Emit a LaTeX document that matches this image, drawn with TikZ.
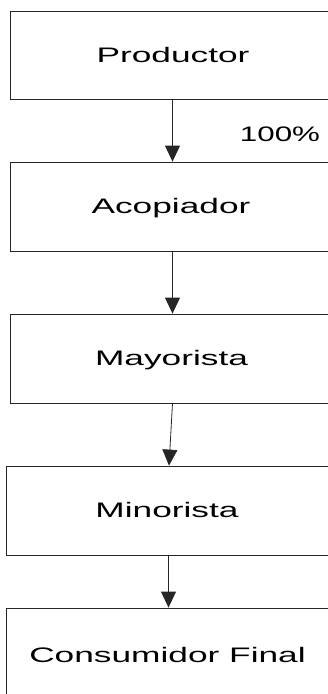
\documentclass[tikz,border=0pt]{standalone}
\usepackage{fontspec}
\setmainfont{Liberation Sans}
\usetikzlibrary{arrows.meta}
\begin{document}
\begin{tikzpicture}[x=1pt,y=-1pt,
  boxnode/.style={draw=black!85,line width=0.8pt,rectangle,inner sep=0pt},
  lbl/.style={anchor=base,inner sep=0pt,font=\fontsize{21}{25}\selectfont},
  arr/.style={draw=black!85,line width=0.8pt,-{Triangle[length=16pt,width=15pt]},shorten >=0pt}]
\useasboundingbox (0,0) rectangle (328,694);
\clip (0,0) rectangle (328,694);
\fill[white] (0,0) rectangle (328,694);
% boxes (extend beyond right edge)
\node[boxnode,minimum width=330pt,minimum height=88pt] (pbox) at (175,55) {};
\node[boxnode,minimum width=330pt,minimum height=89pt] (abox) at (175,206.5) {};
\node[boxnode,minimum width=330pt,minimum height=89pt] (mbox) at (175,358.5) {};
\node[boxnode,minimum width=334pt,minimum height=89pt] (ibox) at (173,510.5) {};
\node[boxnode,minimum width=334pt,minimum height=102pt] (cbox) at (173,659) {};
% labels
\node[lbl] (tp) at (173,62.7) {\scalebox{1.68}[1]{Productor}};
\node[lbl] (ta) at (171,213) {\scalebox{1.68}[1]{Acopiador}};
\node[lbl] (tm) at (171.5,365) {\scalebox{1.68}[1]{Mayorista}};
\node[lbl] (ti) at (167,517) {\scalebox{1.68}[1]{Minorista}};
\node[lbl] (tc) at (167.5,662) {\scalebox{1.68}[1]{Consumidor Final}};
\node[lbl] (pct) at (280,141.7) {\scalebox{1.49}[1]{100\%}};
% connector anchors
\coordinate (x1) at (172.5,0);
\coordinate (x2) at (172.5,0);
\coordinate (x3a) at (172.5,0);
\coordinate (x3b) at (169,0);
\coordinate (x4) at (168.5,0);
\draw[arr] (pbox.south -| x1) -- (abox.north -| x1);
\draw[arr] (abox.south -| x2) -- (mbox.north -| x2);
\draw[arr] (mbox.south -| x3a) -- (ibox.north -| x3b);
\draw[arr] (ibox.south -| x4) -- (cbox.north -| x4);
\end{tikzpicture}
\end{document}
